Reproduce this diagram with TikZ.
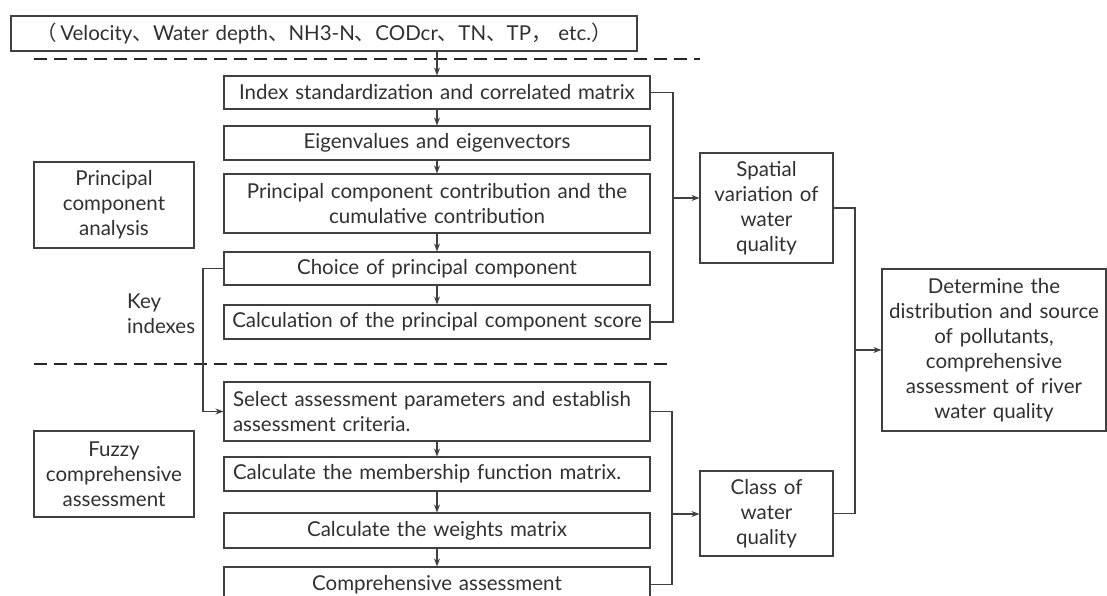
\documentclass[tikz,border=0pt]{standalone}
\usepackage{fontspec}
\setmainfont{Lato}
\newfontfamily\cjk{Noto Sans CJK SC}
\usetikzlibrary{arrows.meta}

\definecolor{linegray}{HTML}{404040}
\definecolor{textgray}{HTML}{303030}

\tikzset{
  base/.style={draw=linegray, line width=1.1pt, text=textgray,
    font=\fontsize{20.5}{25}\selectfont, inner ysep=0pt},
  stepbox/.style={base, text width=418pt, inner xsep=4pt, align=center},
  leftbox/.style={base, text width=408pt, inner xsep=9pt, align=left},
  sidebox/.style={base, text width=150pt, inner xsep=5pt, align=center,
    minimum height=86pt},
  resbox/.style={base, text width=123pt, inner xsep=5pt, align=center},
  link/.style={draw=linegray, line width=1.1pt},
  divider/.style={draw=black!85, line width=2.4pt, dash pattern=on 13pt off 7pt},
}

\begin{document}
\begin{tikzpicture}[x=1pt, y=-1pt, >={Stealth[length=8pt,width=6pt]}]
    \useasboundingbox (0,0) rectangle (1107,596);

    \node[base, text width=616pt, inner xsep=5pt, align=center, minimum height=35pt]
      (par) at (324,33.5) {{\cjk（}\,Velocity{\cjk 、}Water depth{\cjk 、}NH3-N{\cjk 、}CODcr{\cjk 、}TN{\cjk 、}TP{\cjk ，} etc.{\cjk ）}};
    \draw[divider] (34,59) -- (700,59);

    % principal component analysis
    \node[stepbox, minimum height=33pt] (idx) at (437,92.5) {Index standardization and correlated matrix};
    \node[stepbox, minimum height=34pt] (eig) at (437,143) {Eigenvalues and eigenvectors};
    \node[stepbox, minimum height=59pt] (pcc) at (437,203.5) {Principal component contribution and the\\ cumulative contribution};
    \node[stepbox, minimum height=33pt] (cho) at (437,268.5) {Choice of principal component};
    \node[stepbox, minimum height=34pt] (cal) at (437,322) {Calculation of the principal component score};
    \node[sidebox] (pca) at (114,205) {Principal\\ component\\ analysis};

    \draw[divider] (34,364) -- (673,364);

    % fuzzy comprehensive assessment
    \node[leftbox, minimum height=59pt] (sel) at (437,411.5) {Select assessment parameters and establish\\ assessment criteria.};
    \node[leftbox, minimum height=34pt] (mem) at (437,474) {Calculate the membership function matrix.};
    \node[stepbox, minimum height=35pt] (wei) at (437,530.5) {Calculate the weights matrix};
    \node[stepbox, minimum height=35pt] (com) at (437,584.5) {Comprehensive assessment};
    \node[sidebox] (fuz) at (114,474) {Fuzzy\\ comprehensive\\ assessment};

    \node[font=\fontsize{20.5}{25}\selectfont, text=textgray, inner sep=0pt,
      anchor=west, align=left] (key) at (127,314) {Key\\ indexes};

    % results
    \node[resbox, minimum height=110pt] (spa) at (766.5,208) {Spatial\\ variation of\\ water\\ quality};
    \node[resbox, minimum height=85pt] (cls) at (766.5,513.5) {Class of\\ water\\ quality};
    \node[base, text width=214pt, inner xsep=5pt, align=center, minimum height=162pt]
      (det) at (994,350) {Determine the\\ distribution and source\\ of pollutants,\\ comprehensive\\ assessment of river\\ water quality};

    \coordinate (j1) at (673,198);
    \coordinate (j2) at (672,514);
    \coordinate (j3) at (855,350);
    \coordinate (k) at (203,340);

    \draw[link, ->] (idx.north |- par.south) -- (idx);
    \draw[link, ->] (idx) -- (eig);
    \draw[link, ->] (eig) -- (pcc);
    \draw[link, ->] (pcc) -- (cho);
    \draw[link, ->] (cho) -- (cal);
    \draw[link, ->] (sel) -- (mem);
    \draw[link, ->] (mem) -- (wei);
    \draw[link, ->] (wei) -- (com);

    \draw[link, ->] (cho.west) -| (k) |- (sel.west);

    \draw[link] (idx.east) -| (j1) |- (cal.east);
    \draw[link, ->] (j1) -- (j1 -| spa.west);
    \draw[link] (sel.east) -| (j2) |- (com.east);
    \draw[link, ->] (j2) -- (j2 -| cls.west);
    \draw[link] (spa.east) -| (j3) |- (cls.east);
    \draw[link, ->] (j3) -- (det.west);
\end{tikzpicture}
\end{document}
